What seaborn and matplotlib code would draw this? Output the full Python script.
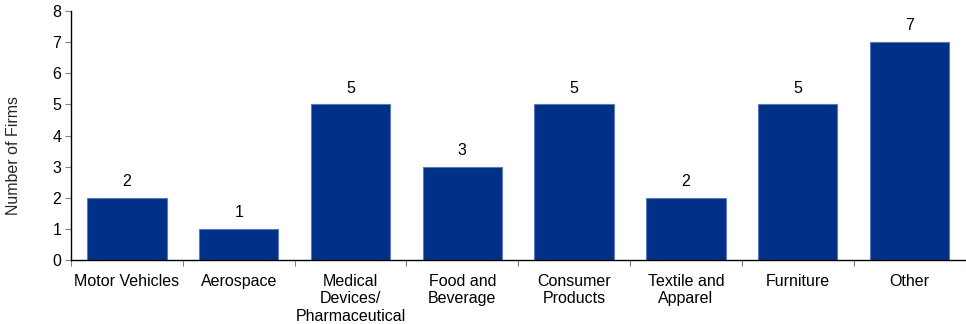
import matplotlib
matplotlib.use("Agg")
import matplotlib.pyplot as plt
import seaborn as sns
import pandas as pd
import numpy as np

categories = ["Motor Vehicles", "Aerospace", "Medical\nDevices/\nPharmaceutical",
              "Food and\nBeverage", "Consumer\nProducts", "Textile and\nApparel",
              "Furniture", "Other"]
firms = [2, 1, 5, 3, 5, 2, 5, 7]

sns.set_theme(style="white")
plt.rcParams["font.family"] = ["Liberation Sans", "DejaVu Sans"]

df = pd.DataFrame({"category": categories, "firms": firms})

fig = plt.figure(figsize=(9.66, 3.24), dpi=100)
ax = fig.add_axes([0.0735, 0.1975, 0.926, 0.7685])

sns.barplot(data=df, x="category", y="firms", color="#003087", saturation=1,
            width=0.71, edgecolor="#5a7bb5", linewidth=0.8, ax=ax)

fs = 11.5
for i, v in enumerate(firms):
    ax.text(i, v + 0.28, str(v), ha="center", va="bottom", fontsize=fs, color="black")

ax.set_ylim(0, 8)
ax.set_xlim(-0.5, len(categories) - 0.5)
ax.set_yticks(range(0, 9))
ax.set_xlabel("")
ax.set_ylabel("Number of Firms", fontsize=fs)
ax.yaxis.set_label_coords(-0.056, 0.42)

for side in ["top", "right"]:
    ax.spines[side].set_visible(False)
ax.spines["left"].set_color("black")
ax.spines["bottom"].set_color("black")
ax.spines["left"].set_linewidth(1.0)
ax.spines["bottom"].set_linewidth(1.0)

ax.tick_params(axis="y", which="major", left=True, length=4, width=0.8,
               color="#808080", labelsize=fs, pad=3, labelcolor="black")
ax.tick_params(axis="x", which="major", bottom=False, labelsize=fs, pad=4, labelcolor="black")
ax.set_xticks(np.arange(-0.5, len(categories)), minor=True)
ax.tick_params(axis="x", which="minor", bottom=True, length=4, width=0.8, color="#808080")

fig.savefig("out.png", dpi=100)
